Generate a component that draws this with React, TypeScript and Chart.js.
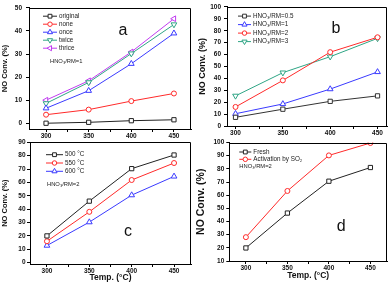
import React, { useEffect, useRef } from 'react';
import { Chart, registerables } from 'chart.js';

Chart.register(...registerables);

// ---------- data ----------
const temps = [300, 350, 400, 450];
const xTickValues = [300, 325, 350, 375, 400, 425, 450];
const xTickLabels = ['300', '', '350', '', '400', '', '450'];

// panel a
const aLabels = ['original', 'none', 'once', 'twice', 'thrice'];
const aOriginal = [0, 0.4, 1.1, 1.5];
const aNone = [3.7, 5.9, 9.6, 12.9];
const aOnce = [6.5, 14.1, 25.8, 39.0];
const aTwice = [8.6, 17.7, 30.2, 42.8];
const aThrice = [10.0, 18.4, 30.9, 45.3];
const aYTicks = [0, 10, 20, 30, 40, 50];

// panel b
const bLabels = ['HNO\u2083/RM=0.5', 'HNO\u2083/RM=1', 'HNO\u2083/RM=2', 'HNO\u2083/RM=3'];
const bRm05 = [7.3, 14.1, 20.7, 25.3];
const bRm1 = [10.3, 18.5, 31.0, 45.4];
const bRm2 = [16.0, 38.3, 62.0, 74.5];
const bRm3 = [25.3, 44.8, 58.2, 73.6];
const bYTicks = [0, 10, 20, 30, 40, 50, 60, 70, 80, 90, 100];

// panel c
const cLabels = ['500 \u00B0C', '550 \u00B0C', '600 \u00B0C'];
const c500 = [20, 46, 70.3, 80.5];
const c550 = [16, 38, 61.8, 74.5];
const c600 = [12.8, 30.3, 50.5, 64.5];
const cYTicks = [0, 10, 20, 30, 40, 50, 60, 70, 80, 90];

// panel d
const dLabels = ['Fresh', 'Activation by SO\u2082'];
const dFresh = [19.9, 46.4, 70.6, 81.0];
const dSO2 = [28.1, 63.2, 90.2, 99.6];
const dYTicks = [10, 20, 30, 40, 50, 60, 70, 80, 90, 100];

const yTitle = 'NO Conv. (%)';
const xTitle = 'Temp. (\u00B0C)';

// ---------- styling ----------
const FONT = '"Liberation Sans", Arial, Helvetica, sans-serif';
const BLACK = '#222222';
const RED = '#ff2a2a';
const BLUE = '#3a3aff';
const TEAL = '#2fa585';
const PURPLE = '#c03cf0';

type Marker = 'rect' | 'circle' | 'triangle';
interface Series { label: string; values: number[]; color: string; marker: Marker; rotation: number; }

interface PanelSpec {
  x: number; y: number; w: number; h: number;
  pad: { top: number; right: number; bottom: number; left: number };
  yWidth: number; xHeight: number;
  yMin: number; yMax: number; yTicks: number[]; yPad: number;
  xMin: number; xMax: number;
  series: Series[];
  legend: { dx: number; dy: number; gap: number; len: number };
  letter: { text: string; dx: number; dy: number };
  note?: { text: string; dx: number; dy: number };
  showXTitle: boolean;
  yTitlePad: number;
  yTitleSize: number;
  xTitlePad: number;
}

function markerRadius(m: Marker) {
  return m === 'circle' ? 2.5 : m === 'rect' ? 3 : 3.3;
}

function drawMarker(ctx: CanvasRenderingContext2D, m: Marker, rotation: number, x: number, y: number, r: number) {
  ctx.beginPath();
  if (m === 'circle') {
    ctx.arc(x, y, r, 0, Math.PI * 2);
  } else if (m === 'rect') {
    const s = r * Math.SQRT1_2;
    ctx.rect(x - s, y - s, 2 * s, 2 * s);
  } else {
    let rad = (rotation * Math.PI) / 180;
    ctx.moveTo(x + Math.sin(rad) * r, y - Math.cos(rad) * r);
    rad += (2 * Math.PI) / 3;
    ctx.lineTo(x + Math.sin(rad) * r, y - Math.cos(rad) * r);
    rad += (2 * Math.PI) / 3;
    ctx.lineTo(x + Math.sin(rad) * r, y - Math.cos(rad) * r);
    ctx.closePath();
  }
  ctx.fillStyle = '#fff';
  ctx.fill();
  ctx.stroke();
}

function makeConfig(spec: PanelSpec): any {
  const overlay = {
    id: 'overlay',
    afterDraw(chart: any) {
      const { ctx, chartArea: ca } = chart;
      ctx.save();
      ctx.strokeStyle = '#000';
      ctx.lineWidth = 1;
      ctx.beginPath();
      const t = Math.round(ca.top) + 0.5;
      const r = Math.round(ca.right) - 0.5;
      ctx.moveTo(ca.left, t);
      ctx.lineTo(r, t);
      ctx.lineTo(r, ca.bottom);
      ctx.stroke();

      // legend
      const lg = spec.legend;
      ctx.font = `6.3px ${FONT}`;
      ctx.textBaseline = 'middle';
      ctx.textAlign = 'left';
      spec.series.forEach((s, i) => {
        const y = ca.top + lg.dy + i * lg.gap;
        const x0 = ca.left + lg.dx;
        const x1 = x0 + lg.len;
        ctx.strokeStyle = s.color;
        ctx.lineWidth = 1;
        ctx.beginPath();
        ctx.moveTo(x0, y);
        ctx.lineTo(x1, y);
        ctx.stroke();
        drawMarker(ctx, s.marker, s.rotation, (x0 + x1) / 2, y, markerRadius(s.marker) * 0.9);
        ctx.fillStyle = '#222';
        ctx.fillText(s.label, x1 + 2, y);
      });

      if (spec.note) {
        ctx.font = `5.8px ${FONT}`;
        ctx.fillStyle = '#222';
        ctx.fillText(spec.note.text, ca.left + spec.note.dx, ca.top + spec.note.dy);
      }

      ctx.font = `16px ${FONT}`;
      ctx.fillStyle = '#111';
      ctx.textAlign = 'center';
      ctx.fillText(spec.letter.text, ca.left + spec.letter.dx, ca.top + spec.letter.dy);
      ctx.restore();
    },
  };

  return {
    type: 'line',
    data: {
      datasets: spec.series.map((s) => ({
        label: s.label,
        data: temps.map((t, i) => ({ x: t, y: s.values[i] })),
        borderColor: s.color,
        borderWidth: 1,
        pointStyle: s.marker,
        pointRotation: s.rotation,
        pointRadius: markerRadius(s.marker),
        pointBorderWidth: 1,
        pointBackgroundColor: '#fff',
        pointBorderColor: s.color,
        tension: 0,
        fill: false,
      })),
    },
    options: {
      animation: false,
      responsive: false,
      maintainAspectRatio: false,
      layout: { padding: spec.pad },
      plugins: { legend: { display: false }, tooltip: { enabled: false } },
      scales: {
        x: {
          type: 'linear',
          min: spec.xMin,
          max: spec.xMax,
          afterBuildTicks: (scale: any) => {
            scale.ticks = xTickValues.map((v) => ({ value: v }));
          },
          afterFit: (scale: any) => {
            scale.height = spec.xHeight;
          },
          ticks: {
            autoSkip: false,
            maxRotation: 0,
            padding: 0,
            color: '#111',
            font: { family: FONT, size: 6.5, weight: 'bold' },
            callback: (v: number) => {
              const i = xTickValues.indexOf(v);
              return i >= 0 ? xTickLabels[i] : '';
            },
          },
          grid: { display: true, drawOnChartArea: false, drawTicks: true, tickLength: 3, color: '#000', lineWidth: 1 },
          border: { display: true, color: '#000', width: 1 },
          title: {
            display: spec.showXTitle,
            text: xTitle,
            color: '#111',
            font: { family: FONT, size: 8.5, weight: 'bold', lineHeight: 1 },
            padding: { top: 0, bottom: spec.xTitlePad },
          },
        },
        y: {
          type: 'linear',
          min: spec.yMin,
          max: spec.yMax,
          afterBuildTicks: (scale: any) => {
            scale.ticks = spec.yTicks.map((v) => ({ value: v }));
          },
          afterFit: (scale: any) => {
            scale.width = spec.yWidth;
          },
          ticks: {
            autoSkip: false,
            padding: spec.yPad,
            color: '#111',
            font: { family: FONT, size: 6.5, weight: 'bold' },
          },
          grid: { display: true, drawOnChartArea: false, drawTicks: true, tickLength: 3, color: '#000', lineWidth: 1 },
          border: { display: true, color: '#000', width: 1 },
          title: {
            display: true,
            text: yTitle,
            color: '#111',
            font: { family: FONT, size: spec.yTitleSize, weight: 'bold', lineHeight: 1 },
            padding: { top: spec.yTitlePad, bottom: 0 },
          },
        },
      },
    },
    plugins: [overlay],
  };
}

const panels: PanelSpec[] = [
  {
    x: 0, y: 0, w: 196, h: 142,
    pad: { top: 5, right: 1, bottom: 0, left: 0 },
    yWidth: 29, xHeight: 13,
    yMin: -2.5, yMax: 50, yTicks: aYTicks, yPad: 4,
    xMin: 280, xMax: 470,
    series: [
      { label: aLabels[0], values: aOriginal, color: BLACK, marker: 'rect', rotation: 0 },
      { label: aLabels[1], values: aNone, color: RED, marker: 'circle', rotation: 0 },
      { label: aLabels[2], values: aOnce, color: BLUE, marker: 'triangle', rotation: 0 },
      { label: aLabels[3], values: aTwice, color: TEAL, marker: 'triangle', rotation: 180 },
      { label: aLabels[4], values: aThrice, color: PURPLE, marker: 'triangle', rotation: 270 },
    ],
    legend: { dx: 14, dy: 8.3, gap: 8, len: 14 },
    letter: { text: 'a', dx: 94, dy: 23 },
    note: { text: 'HNO\u2083/RM=1', dx: 21, dy: 53 },
    showXTitle: false,
    yTitlePad: 1.5,
    yTitleSize: 7.5,
    xTitlePad: 0,
  },
  {
    x: 196, y: 0, w: 196, h: 142,
    pad: { top: 3.5, right: 3, bottom: 0, left: 0 },
    yWidth: 31, xHeight: 16,
    yMin: 0, yMax: 100, yTicks: bYTicks, yPad: 3,
    xMin: 291, xMax: 460,
    series: [
      { label: bLabels[0], values: bRm05, color: '#333333', marker: 'rect', rotation: 0 },
      { label: bLabels[1], values: bRm1, color: BLUE, marker: 'triangle', rotation: 0 },
      { label: bLabels[2], values: bRm2, color: RED, marker: 'circle', rotation: 0 },
      { label: bLabels[3], values: bRm3, color: TEAL, marker: 'triangle', rotation: 180 },
    ],
    legend: { dx: 11, dy: 9.2, gap: 8.5, len: 13 },
    letter: { text: 'b', dx: 109, dy: 22 },
    showXTitle: false,
    yTitlePad: 2,
    yTitleSize: 9,
    xTitlePad: 0,
  },
  {
    x: 0, y: 136, w: 196, h: 148,
    pad: { top: 6.3, right: 1, bottom: 0, left: 0 },
    yWidth: 30, xHeight: 20,
    yMin: -1, yMax: 90, yTicks: cYTicks, yPad: 1.5,
    xMin: 280, xMax: 470,
    series: [
      { label: cLabels[0], values: c500, color: BLACK, marker: 'rect', rotation: 0 },
      { label: cLabels[1], values: c550, color: RED, marker: 'circle', rotation: 0 },
      { label: cLabels[2], values: c600, color: BLUE, marker: 'triangle', rotation: 0 },
    ],
    legend: { dx: 16, dy: 12.4, gap: 8.3, len: 17 },
    letter: { text: 'c', dx: 98, dy: 89 },
    note: { text: 'HNO\u2083/RM=2', dx: 17, dy: 41.7 },
    showXTitle: true,
    yTitlePad: 1.5,
    yTitleSize: 7.5,
    xTitlePad: 1.8,
  },
  {
    x: 196, y: 136, w: 196, h: 148,
    pad: { top: 6.5, right: 2, bottom: 0, left: 0 },
    yWidth: 33.3, xHeight: 23,
    yMin: 10, yMax: 100, yTicks: dYTicks, yPad: 2,
    xMin: 280, xMax: 470,
    series: [
      { label: dLabels[0], values: dFresh, color: BLACK, marker: 'rect', rotation: 0 },
      { label: dLabels[1], values: dSO2, color: RED, marker: 'circle', rotation: 0 },
    ],
    legend: { dx: 10, dy: 9.5, gap: 7.3, len: 12 },
    letter: { text: 'd', dx: 112, dy: 84 },
    note: { text: 'HNO\u2083/RM=2', dx: 10, dy: 23.8 },
    showXTitle: true,
    yTitlePad: 0,
    yTitleSize: 10.5,
    xTitlePad: 3.8,
  },
];

function Panel({ spec }: { spec: PanelSpec }) {
  const ref = useRef<HTMLCanvasElement>(null);
  useEffect(() => {
    if (!ref.current) return;
    const chart = new Chart(ref.current, makeConfig(spec));
    return () => chart.destroy();
  }, [spec]);
  return (
    <canvas
      ref={ref}
      width={spec.w}
      height={spec.h}
      style={{ position: 'absolute', left: spec.x, top: spec.y, width: spec.w, height: spec.h }}
    />
  );
}

export default function App() {
  return (
    <div style={{ position: 'fixed', left: 0, top: 0, width: 392, height: 284, background: '#fff', overflow: 'hidden' }}>
      {panels.map((p, i) => (
        <Panel key={i} spec={p} />
      ))}
    </div>
  );
}
